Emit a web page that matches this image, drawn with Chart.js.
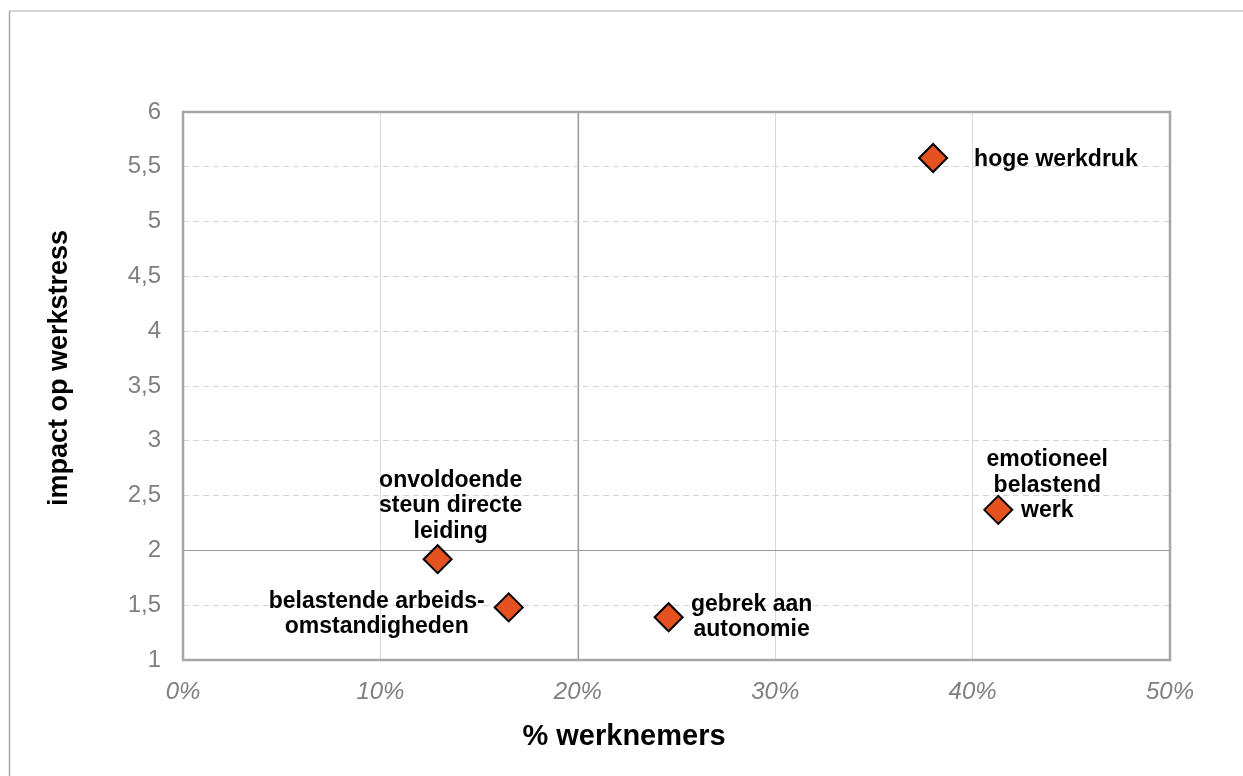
<!DOCTYPE html>
<html>
<head>
<meta charset="utf-8">
<script src="https://cdn.jsdelivr.net/npm/chart.js@4"></script>
<style>
html,body{margin:0;padding:0;background:#fff;}
#wrap{width:1243px;height:776px;position:relative;}
</style>
</head>
<body>
<div id="wrap"><canvas id="c" width="1243" height="776"></canvas></div>
<script>
// ---- data ----
const categories = ['hoge werkdruk', 'emotioneel belastend werk', 'onvoldoende steun directe leiding', 'belastende arbeidsomstandigheden', 'gebrek aan autonomie'];
const pctWorkers = [38.0, 41.3, 12.9, 16.5, 24.6];
const impact = [5.58, 2.37, 1.92, 1.48, 1.39];
const labelLines = [
  ['hoge werkdruk'],
  ['emotioneel', 'belastend', 'werk'],
  ['onvoldoende', 'steun directe', 'leiding'],
  ['belastende arbeids-', 'omstandigheden'],
  ['gebrek aan', 'autonomie']
];
const xTickValues = [0, 10, 20, 30, 40, 50];
const yTickValues = [1, 1.5, 2, 2.5, 3, 3.5, 4, 4.5, 5, 5.5, 6];
const xTitle = '% werknemers';
const yTitle = 'impact op werkstress';
const crossX = 20;
const crossY = 2;

// ---- label placement styles (offsets in px from the marker; align) ----
const labelStyle = [
  {dx: 41, dy: 2, align: 'left'},
  {dx: 49, dy: -50, align: 'center'},
  {dx: 13, dy: -79, align: 'center'},
  {dx: -132, dy: -6, align: 'center'},
  {dx: 83, dy: -13, align: 'center'}
];

const labelPlugin = {
  id: 'labels',
  afterDatasetsDraw(chart) {
    const ctx = chart.ctx;
    const meta = chart.getDatasetMeta(0);
    ctx.save();
    ctx.fillStyle = '#000';
    ctx.font = 'bold 23px "Liberation Sans", Arial, sans-serif';
    ctx.textBaseline = 'middle';
    meta.data.forEach((pt, i) => {
      const st = labelStyle[i];
      ctx.textAlign = st.align;
      const lines = labelLines[i];
      const lh = 25.5;
      lines.forEach((ln, k) => {
        ctx.fillText(ln, pt.x + st.dx, pt.y + st.dy + k * lh);
      });
    });
    ctx.restore();
  }
};

const framePlugin = {
  id: 'frame',
  beforeDatasetsDraw(chart) {
    const {ctx, chartArea: a, scales} = chart;
    ctx.save();
    // cross lines
    ctx.strokeStyle = '#9a9a9a';
    ctx.lineWidth = 1.2;
    const xp = Math.round(scales.x.getPixelForValue(crossX)) + 0.5;
    const yp = Math.round(scales.y.getPixelForValue(crossY)) + 0.5;
    ctx.beginPath();
    ctx.moveTo(xp, a.top); ctx.lineTo(xp, a.bottom);
    ctx.moveTo(a.left, yp); ctx.lineTo(a.right, yp);
    ctx.stroke();
    // plot frame
    ctx.strokeStyle = '#a6a6a6';
    ctx.lineWidth = 2.5;
    ctx.strokeRect(a.left, a.top, a.right - a.left, a.bottom - a.top);
    ctx.restore();
  },
  afterDraw(chart) {
    const ctx = chart.ctx;
    ctx.save();
    // outer border (top and left edges only)
    ctx.lineWidth = 1.5;
    ctx.strokeStyle = '#c8c8c8';
    ctx.beginPath();
    ctx.moveTo(9, 11); ctx.lineTo(1243, 11);
    ctx.stroke();
    ctx.strokeStyle = '#a8a8a8';
    ctx.beginPath();
    ctx.moveTo(9.5, 11); ctx.lineTo(9.5, 776);
    ctx.stroke();
    // axis titles
    ctx.fillStyle = '#000';
    ctx.font = 'bold 29px "Liberation Sans", Arial, sans-serif';
    ctx.textAlign = 'center';
    ctx.textBaseline = 'middle';
    ctx.fillText(xTitle, 624, 737);
    ctx.translate(60, 368);
    ctx.rotate(-Math.PI / 2);
    ctx.font = 'bold 27px "Liberation Sans", Arial, sans-serif';
    ctx.fillText(yTitle, 0, 0);
    ctx.restore();
  }
};

new Chart(document.getElementById('c'), {
  type: 'scatter',
  data: {
    datasets: [{
      label: 'risico',
      data: pctWorkers.map((x, i) => ({x: x, y: impact[i]})),
      pointStyle: 'rectRot',
      pointRadius: 14,
      pointHoverRadius: 14,
      backgroundColor: '#E65120',
      borderColor: '#000',
      pointBorderWidth: 2,
      borderWidth: 2
    }]
  },
  options: {
    responsive: false,
    animation: false,
    events: [],
    layout: {padding: {top: 112, right: 73, left: 0, bottom: 0}},
    plugins: {legend: {display: false}, tooltip: {enabled: false}, title: {display: false}},
    scales: {
      x: {
        type: 'linear', min: 0, max: 50,
        afterFit(s) { s.height = 116; },
        afterBuildTicks(s) { s.ticks = xTickValues.map(v => ({value: v})); },
        grid: {color: '#d9d9d9', lineWidth: 1, drawTicks: false},
        border: {display: false},
        ticks: {
          padding: 18, color: '#7f7f7f', maxRotation: 0,
          font: {family: '"Liberation Sans", Arial, sans-serif', size: 24, style: 'italic'},
          callback: v => v + '%'
        }
      },
      y: {
        type: 'linear', min: 1, max: 6,
        afterFit(s) { s.width = 183; },
        afterBuildTicks(s) { s.ticks = yTickValues.map(v => ({value: v})); },
        grid: {color: '#d4d4d4', lineWidth: 1, drawTicks: false},
        border: {display: false, dash: [6, 4]},
        ticks: {
          padding: 22, color: '#7f7f7f',
          font: {family: '"Liberation Sans", Arial, sans-serif', size: 24},
          callback: v => String(v).replace('.', ',')
        }
      }
    }
  },
  plugins: [framePlugin, labelPlugin]
});
</script>
</body>
</html>
